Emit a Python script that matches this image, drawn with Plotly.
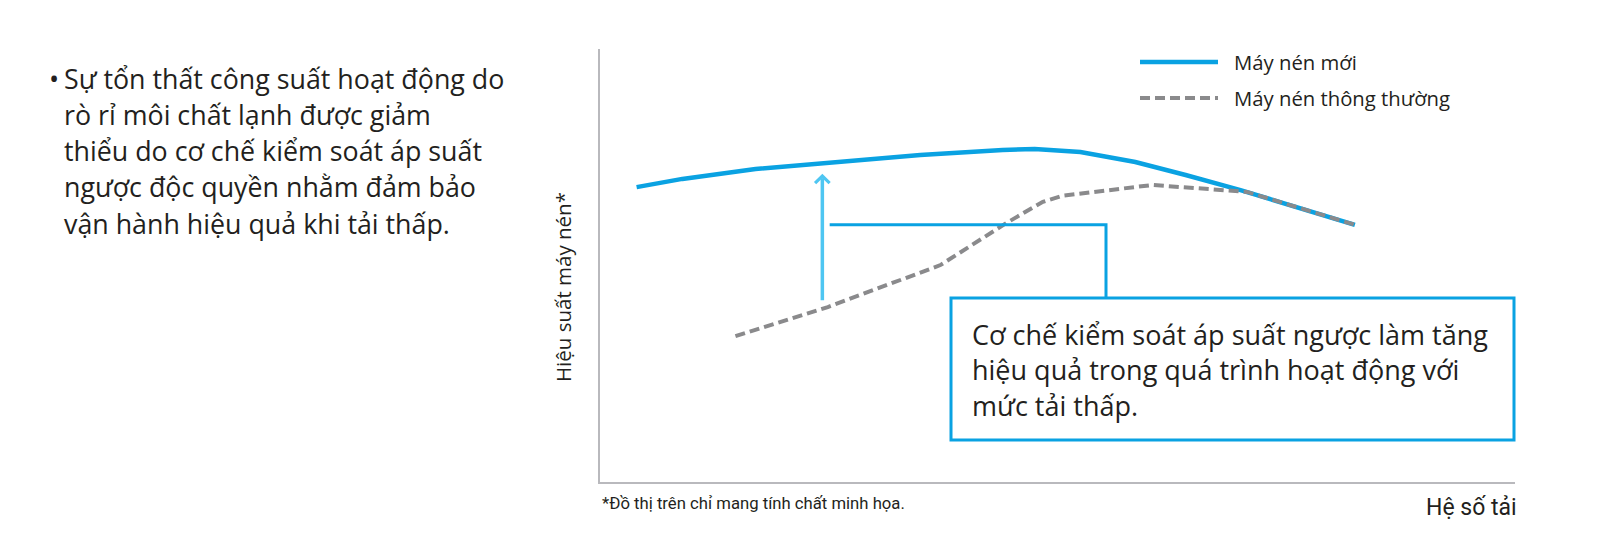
import plotly.graph_objects as go

# Illustrative curves: efficiency vs load factor (0-100 scale)
new_load = [4, 9, 17, 26.5, 35, 44, 47.5, 52.5, 58.5, 64, 70, 82.5]
new_eff = [68.1, 70.0, 72.3, 74.1, 75.5, 76.7, 76.9, 76.2, 73.9, 70.9, 67.4, 59.4]

old_load = [14.8, 24.9, 37.2, 44.4, 48.4, 50.5, 60.4, 70.7, 82.5]
old_eff = [33.7, 40.4, 50.1, 59.8, 64.7, 66.1, 68.6, 67.0, 59.4]

legend_names = ['Máy nén mới', 'Máy nén thông thường']
y_title = 'Hiệu suất máy nén*'
x_title = 'Hệ số tải'
footnote = '*Đồ thị trên chỉ mang tính chất minh họa.'
bullet_lines = [
    'Sự tổn thất công suất hoạt động do',
    'rò rỉ môi chất lạnh được giảm',
    'thiểu do cơ chế kiểm soát áp suất',
    'ngược độc quyền nhằm đảm bảo',
    'vận hành hiệu quả khi tải thấp.',
]
box_lines = [
    'Cơ chế kiểm soát áp suất ngược làm tăng',
    'hiệu quả trong quá trình hoạt động với',
    'mức tải thấp.',
]

blue = '#0aa2e2'
light_blue = '#4ec6f2'
gray = '#8a8a8c'
axis_gray = '#b9b9bd'
text_color = '#231f20'
font_main = 'Open Sans, Noto Sans, sans-serif'
font_small = 'Roboto, sans-serif'

# plot area in pixels
L, R, T, B = 592, 1507, 41, 474
W, H = 1600, 539


def px(x):
    return (x - L) / (R - L)


def py(y):
    return (B - y) / (B - T)


fig = go.Figure()
fig.add_trace(go.Scatter(
    x=new_load, y=new_eff, mode='lines', name=legend_names[0],
    line=dict(color=blue, width=4.5), hoverinfo='skip'
))
fig.add_trace(go.Scatter(
    x=old_load, y=old_eff, mode='lines', name=legend_names[1],
    line=dict(color=gray, width=4, dash='10px,5px'), hoverinfo='skip'
))

annotations = []
shapes = []

# legend drawn by hand (long sample lines)
for i, (name, col, dash) in enumerate([(legend_names[0], blue, 'solid'),
                                       (legend_names[1], gray, '10px,5px')]):
    yy = [54, 90][i]
    shapes.append(dict(type='line', xref='paper', yref='paper',
                       x0=px(1132), x1=px(1210), y0=py(yy), y1=py(yy),
                       line=dict(color=col, width=4 if i else 4.5, dash=dash)))
    annotations.append(dict(xref='paper', yref='paper', x=px(1224), y=py(yy),
                            text=name, showarrow=False, xanchor='left', yanchor='middle',
                            font=dict(family=font_main, size=20.3, color=text_color)))

# arrow showing the improvement
annotations.append(dict(x=24.3, y=71.2, ax=24.3, ay=41.6, xref='x', yref='y',
                        axref='x', ayref='y', text='', showarrow=True,
                        arrowhead=4, arrowsize=0.8, arrowwidth=3.5, arrowcolor=light_blue))

# connector and callout box
shapes.append(dict(type='path', xref='x', yref='y',
                   path='M 25.1 59.4 L 55.3 59.4 L 55.3 42.5',
                   line=dict(color=blue, width=3)))
shapes.append(dict(type='rect', xref='paper', yref='paper',
                   x0=px(943), x1=px(1506), y0=py(290), y1=py(432),
                   line=dict(color=blue, width=3), fillcolor='rgba(0,0,0,0)'))
for i, line in enumerate(box_lines):
    annotations.append(dict(xref='paper', yref='paper', x=px(962), y=py(326 + i * 35.5),
                            text=line, showarrow=False, xanchor='left', yanchor='middle',
                            font=dict(family=font_main, size=27, color=text_color)))

# left bullet text
annotations.append(dict(xref='paper', yref='paper', x=px(39), y=py(70),
                        text='•', showarrow=False, xanchor='left', yanchor='middle',
                        font=dict(family=font_main, size=27, color=text_color)))
for i, line in enumerate(bullet_lines):
    annotations.append(dict(xref='paper', yref='paper', x=px(54), y=py(70 + i * 36.3),
                            text=line, showarrow=False, xanchor='left', yanchor='middle',
                            font=dict(family=font_main, size=26.8, color=text_color)))

# axis titles and footnote
annotations.append(dict(xref='paper', yref='paper', x=px(555), y=py(279),
                        text=y_title, showarrow=False, textangle=-90,
                        xanchor='center', yanchor='middle',
                        font=dict(family=font_main, size=20.5, color=text_color)))
annotations.append(dict(xref='paper', yref='paper', x=px(1511), y=py(499),
                        text=x_title, showarrow=False, xanchor='right', yanchor='middle',
                        font=dict(family=font_small, size=23, color=text_color)))
annotations.append(dict(xref='paper', yref='paper', x=px(592), y=py(495),
                        text=footnote, showarrow=False, xanchor='left', yanchor='middle',
                        font=dict(family=font_small, size=16.7, color=text_color)))

fig.update_layout(
    width=W, height=H,
    margin=dict(l=L, r=W - R, t=T, b=H - B),
    paper_bgcolor='white', plot_bgcolor='white',
    showlegend=False,
    xaxis=dict(range=[0, 100], showgrid=False, zeroline=False, showticklabels=False,
               ticks='', showline=True, linecolor=axis_gray, linewidth=2, fixedrange=True),
    yaxis=dict(range=[0, 100], showgrid=False, zeroline=False, showticklabels=False,
               ticks='', showline=True, linecolor=axis_gray, linewidth=2, fixedrange=True),
    annotations=annotations,
    shapes=shapes,
)

fig.write_html('out.html')
